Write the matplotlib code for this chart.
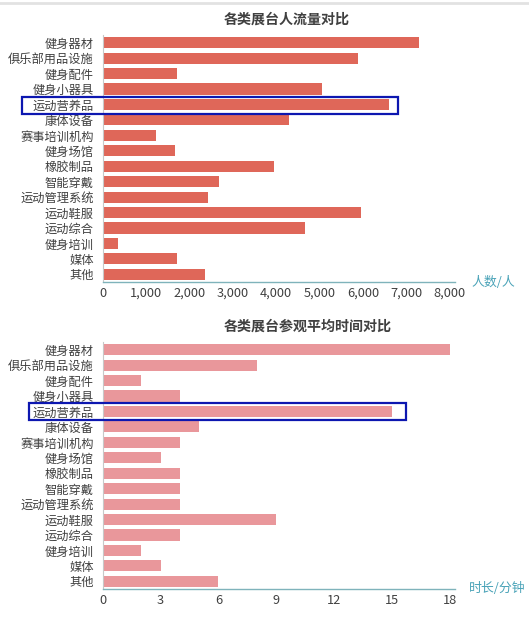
import matplotlib
matplotlib.use("Agg")
import matplotlib.pyplot as plt
from matplotlib.patches import Rectangle
from matplotlib.lines import Line2D
from matplotlib.ticker import FuncFormatter

plt.rcParams["font.family"] = ["Noto Sans CJK SC", "DejaVu Sans"]

categories = [
    "健身器材", "俱乐部用品设施", "健身配件", "健身小器具", "运动营养品",
    "康体设备", "赛事培训机构", "健身场馆", "橡胶制品", "智能穿戴",
    "运动管理系统", "运动鞋服", "运动综合", "健身培训", "媒体", "其他",
]
visitors = [7300, 5880, 1720, 5050, 6590, 4300, 1240, 1660, 3940, 2680,
            2420, 5960, 4660, 360, 1720, 2360]
minutes = [18, 8, 2, 4, 15, 5, 4, 3, 4, 4, 4, 9, 4, 2, 3, 6]

title_top = "各类展台人流量对比"
title_bottom = "各类展台参观平均时间对比"
unit_top = "人数/人"
unit_bottom = "时长/分钟"
ticks_top = [0, 1000, 2000, 3000, 4000, 5000, 6000, 7000, 8000]
ticks_bottom = [0, 3, 6, 9, 12, 15, 18]

W, H = 529, 617
fig = plt.figure(figsize=(W / 100, H / 100), dpi=100)

text_color = "#404040"
teal = "#4aa3b8"


def px(x0, y0, x1, y1):
    # pixel box (top-left origin) -> figure fraction rect
    return [x0 / W, 1 - y1 / H, (x1 - x0) / W, (y1 - y0) / H]


def draw(ax, values, color, ticks, xmax, fmt, title, title_x, title_y, unit, unit_x, unit_y):
    pos = list(range(len(categories)))
    ax.barh(pos, values, height=0.72, color=color)
    ax.set_ylim(len(categories) - 0.5, -0.5)
    ax.set_xlim(0, xmax)
    ax.set_yticks(pos)
    ax.set_yticklabels(categories, fontsize=8.8, color=text_color)
    ax.set_xticks(ticks)
    ax.xaxis.set_major_formatter(FuncFormatter(fmt))
    ax.tick_params(axis="x", length=0, pad=3.5, labelsize=9.2, labelcolor=text_color)
    ax.tick_params(axis="y", length=0, pad=6.5)
    for s in ["top", "right"]:
        ax.spines[s].set_visible(False)
    ax.spines["left"].set_color("#c8c8c8")
    ax.spines["left"].set_linewidth(0.8)
    ax.spines["bottom"].set_color("#7fb3bb")
    ax.spines["bottom"].set_linewidth(1.0)
    fig.text(title_x / W, 1 - title_y / H, title, ha="center", va="center",
             fontsize=10.1, fontweight="bold", color=text_color)
    fig.text(unit_x / W, 1 - unit_y / H, unit, ha="left", va="center",
             fontsize=9.3, color=teal)


ax1 = fig.add_axes(px(102.7, 35, 455, 282))
draw(ax1, visitors, "#df6759", ticks_top, 8120, lambda v, p: f"{int(v):,}",
     title_top, 287, 20, unit_top, 471, 282)

ax2 = fig.add_axes(px(102.7, 342, 455, 589))
draw(ax2, minutes, "#e9979b", ticks_bottom, 18.27, lambda v, p: f"{int(v)}",
     title_bottom, 308, 327, unit_bottom, 469, 588)

# highlight boxes
for box in [(22, 97, 398, 114), (29, 403, 406, 420)]:
    r = px(*box)
    fig.add_artist(Rectangle((r[0], r[1]), r[2], r[3], transform=fig.transFigure,
                             fill=False, edgecolor="#0d17b0", linewidth=1.6))

# light top border
fig.add_artist(Line2D([0, 1], [1 - 2.5 / H, 1 - 2.5 / H], transform=fig.transFigure,
                      color="#e2e2e2", linewidth=2))

fig.savefig("out.png", dpi=100)
